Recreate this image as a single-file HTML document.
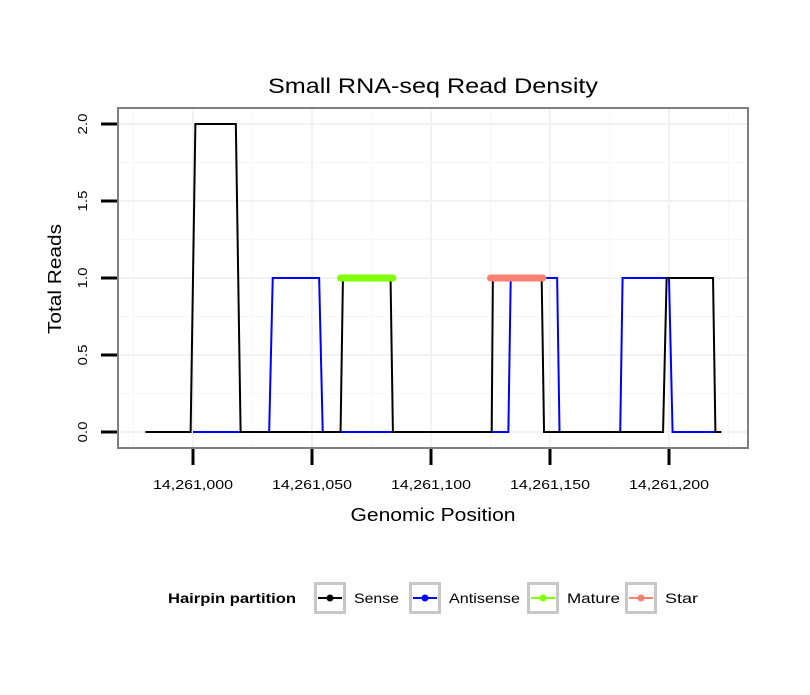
<!DOCTYPE html>
<html><head><meta charset="utf-8"><style>
body{margin:0;background:#fff;}
svg text{font-family:"Liberation Sans",sans-serif;}
</style></head><body>
<svg id="chart" width="810" height="690" xmlns="http://www.w3.org/2000/svg">
<rect width="810" height="690" fill="#fff"/>
<text x="433" y="93" font-size="21" text-anchor="middle" textLength="330" lengthAdjust="spacingAndGlyphs">Small RNA-seq Read Density</text>
<g id="grid"></g>
<g id="series"></g>
<rect x="118" y="108" width="630" height="340" fill="none" stroke="#7f7f7f" stroke-width="2"/>
<g id="axes"></g>
<text x="433" y="521" font-size="18" text-anchor="middle" textLength="165" lengthAdjust="spacingAndGlyphs">Genomic Position</text>
<text transform="translate(61,279) rotate(-90)" font-size="18" text-anchor="middle" textLength="110" lengthAdjust="spacingAndGlyphs">Total Reads</text>
<g>
<text x="168" y="603" font-size="14" font-weight="bold" textLength="128" lengthAdjust="spacingAndGlyphs">Hairpin partition</text>
<g id="legend-keys"></g>
</g>
</svg>
<script>
const xTicks=[14261000,14261050,14261100,14261150,14261200];
const xTickLabels=["14,261,000","14,261,050","14,261,100","14,261,150","14,261,200"];
const yTicks=[0,0.5,1,1.5,2];
const yTickLabels=["0.0","0.5","1.0","1.5","2.0"];
const senseX=[14260980,14260999,14261001,14261018,14261020,14261062,14261063,14261083,14261084,14261125.5,14261126,14261146.5,14261147.5,14261197.5,14261199,14261218.5,14261219.5,14261222];
const senseY=[0,0,2,2,0,0,1,1,0,0,1,1,0,0,1,1,0,0];
const antiX=[14261000,14261032,14261033.5,14261053,14261054.5,14261132.5,14261133.5,14261153,14261154,14261179.5,14261180.5,14261200,14261201.5,14261220];
const antiY=[0,0,1,1,0,0,1,1,0,0,1,1,0,0];
const matureX=[14261062,14261084];
const matureY=[1,1];
const starX=[14261125,14261147];
const starY=[1,1];
const legendLabels=["Sense","Antisense","Mature","Star"];
const legendColors=["#000000","#0000ff","#7fff00","#fa8072"];
const legendLens=[45,71,53,33];

const NS="http://www.w3.org/2000/svg";
function sx(v){return 193+(v-14261000)*2.38;}
function sy(v){return 432-v*154;}
function mk(tag,attrs,parent){const e=document.createElementNS(NS,tag);for(const k in attrs)e.setAttribute(k,attrs[k]);parent.appendChild(e);return e;}
const grid=document.getElementById('grid'),series=document.getElementById('series'),axes=document.getElementById('axes');
for(let i=0;i<xTicks.length;i++){
  let g=mk('line',{x1:sx(xTicks[i]),x2:sx(xTicks[i]),y1:109,y2:447,stroke:'#f2f2f2','stroke-width':2},grid);
  
  
}
const xMinor=[xTicks[0]-25].concat(xTicks.map(v=>v+25));
for(const v of xMinor){
  let g=mk('line',{x1:sx(v),x2:sx(v),y1:109,y2:447,stroke:'#f7f7f7','stroke-width':1},grid);
  
  
}
for(let i=0;i<yTicks.length;i++){
  let g=mk('line',{x1:119,x2:747,y1:sy(yTicks[i]),y2:sy(yTicks[i]),stroke:'#f2f2f2','stroke-width':2},grid);
  
  
  if(i<yTicks.length-1){
    let m=mk('line',{x1:119,x2:747,y1:sy(yTicks[i]+0.25),y2:sy(yTicks[i]+0.25),stroke:'#f7f7f7','stroke-width':1},grid);
    
    
  }
}
function pts(X,Y){return X.map((x,i)=>sx(x)+','+sy(Y[i])).join(' ');}
let a=mk('polyline',{points:pts(antiX,antiY),fill:'none',stroke:'#0000ff','stroke-width':2},series);


let s=mk('polyline',{points:pts(senseX,senseY),fill:'none',stroke:'#000','stroke-width':2},series);


let m=mk('polyline',{points:pts(matureX,matureY),fill:'none',stroke:'#7fff00','stroke-width':7,'stroke-linecap':'round'},series);


let st=mk('polyline',{points:pts(starX,starY),fill:'none',stroke:'#fa8072','stroke-width':7,'stroke-linecap':'round'},series);


for(let i=0;i<xTicks.length;i++){
  let t=mk('line',{x1:sx(xTicks[i]),x2:sx(xTicks[i]),y1:449,y2:465,stroke:'#000','stroke-width':3},axes);
  
  
  let l=mk('text',{x:sx(xTicks[i]),y:489,'font-size':13,'text-anchor':'middle',textLength:80,lengthAdjust:'spacingAndGlyphs'},axes);
  l.textContent=xTickLabels[i];
  
  
}
for(let i=0;i<yTicks.length;i++){
  let t=mk('line',{x1:101,x2:117,y1:sy(yTicks[i]),y2:sy(yTicks[i]),stroke:'#000','stroke-width':3},axes);
  
  
  let l=mk('text',{transform:'translate(87,'+sy(yTicks[i])+') rotate(-90)','font-size':13,'text-anchor':'middle',textLength:21,lengthAdjust:'spacingAndGlyphs'},axes);
  l.textContent=yTickLabels[i];
  
  
}
const lk=document.getElementById('legend-keys');
const keyX=[314,409,527,625];
for(let i=0;i<legendLabels.length;i++){
  let g=mk('g',{},lk);
  
  
  mk('rect',{x:keyX[i]+1.5,y:583.5,width:29,height:29,fill:'#fff',stroke:'#c8c8c8','stroke-width':3},g);
  mk('line',{x1:keyX[i]+4,x2:keyX[i]+28,y1:598,y2:598,stroke:legendColors[i],'stroke-width':2},g);
  mk('circle',{cx:keyX[i]+16,cy:598,r:3.5,fill:legendColors[i]},g);
  let t=mk('text',{x:keyX[i]+40,y:603,'font-size':14,textLength:legendLens[i],lengthAdjust:'spacingAndGlyphs'},g);
  t.textContent=legendLabels[i];
}
</script>
</body></html>
